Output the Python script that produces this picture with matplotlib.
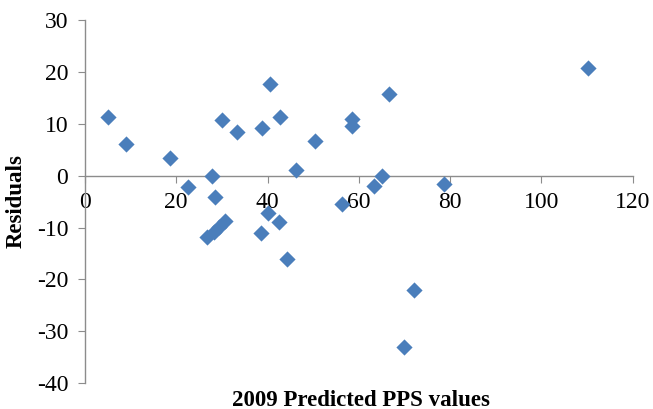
import matplotlib
matplotlib.use("Agg")
import matplotlib.pyplot as plt
import numpy as np

# predicted PPS values (x) and residuals (y)
predicted = [5.1, 9.0, 18.6, 22.6, 27.8, 28.4, 30.0, 33.4, 38.7, 40.5, 42.7, 46.2,
             50.5, 58.4, 58.4, 66.7, 110.2, 65.1, 63.3, 78.7, 56.3, 72.0, 69.8,
             40.1, 42.6, 38.5, 44.2, 26.8, 28.2, 29.4, 30.7]
residuals = [11.25, 6.2, 3.4, -2.1, -0.1, -4.2, 10.7, 8.4, 9.1, 17.7, 11.4, 1.1,
             6.7, 11.0, 9.6, 15.7, 20.7, -0.1, -2.0, -1.6, -5.4, -22.0, -33.1,
             -7.1, -9.0, -11.1, -16.0, -11.8, -10.8, -9.8, -8.8]

xticks = [0, 20, 40, 60, 80, 100, 120]
yticks = [-40, -30, -20, -10, 0, 10, 20, 30]

blue = "#4A7EBB"
grey = "#8C8C8C"

plt.rcParams['font.family'] = ['Liberation Serif', 'DejaVu Serif']
plt.rcParams['axes.unicode_minus'] = False

fig = plt.figure(figsize=(6.53, 4.09), dpi=100)
ax = fig.add_axes([0.130, 0.063, 0.839, 0.888])

ax.scatter(predicted, residuals, marker='D', s=68, color=blue, linewidths=0, zorder=3)

ax.set_xlim(0, 120)
ax.set_ylim(-40, 30)
ax.set_xticks(xticks)
ax.set_yticks(yticks)

# x axis crosses at y = 0
ax.spines['bottom'].set_position(('data', 0))
ax.spines['top'].set_visible(False)
ax.spines['right'].set_visible(False)
for s in ['bottom', 'left']:
    ax.spines[s].set_color(grey)
    ax.spines[s].set_linewidth(1.0)

ax.tick_params(axis='both', direction='out', length=5, color=grey, labelsize=17)
ax.tick_params(axis='x', pad=7)
ax.tick_params(axis='y', pad=7)

fig.text(0.553, 0.022, '2009 Predicted PPS values', ha='center', va='center',
         fontsize=16.5, fontweight='bold')
fig.text(0.025, 0.508, 'Residuals', ha='center', va='center', rotation=90,
         fontsize=16.5, fontweight='bold')

fig.savefig('out.png', dpi=100)
